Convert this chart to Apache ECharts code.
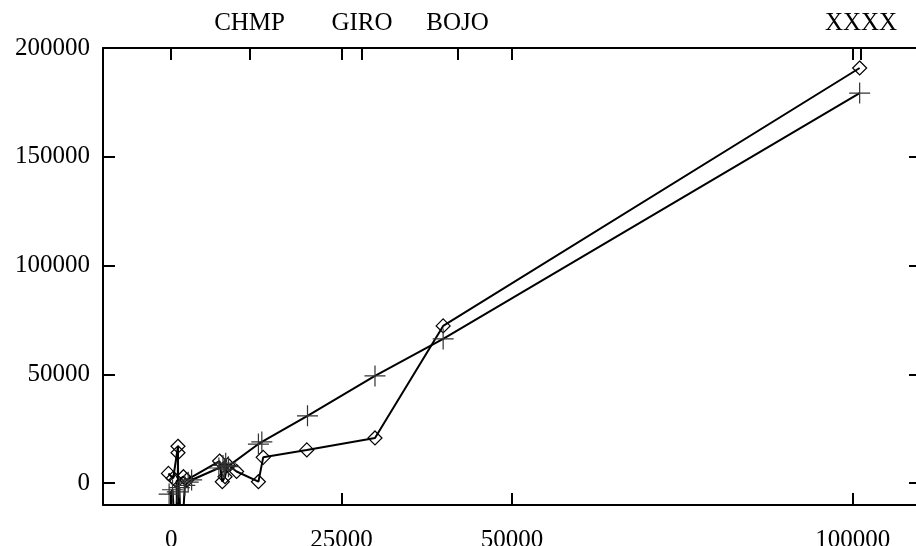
<!DOCTYPE html>
<html>
<head>
<meta charset="utf-8">
<script src="https://cdn.jsdelivr.net/npm/echarts@6/dist/echarts.min.js"></script>
<style>
html, body { margin: 0; padding: 0; background: #fff; }
#chart { width: 916px; height: 546px; }
</style>
</head>
<body>
<div id="chart"></div>
<script>
// points drawn with "+" marks (some fall below the y range and get clipped)
var crossX = [-300, 200, 600, 900, 1200, 1500, 2000, 2500, 3000, 7000, 7600, 8000, 8400, 7800, 12800, 13300, 20000, 29900, 39900, 101000];
var crossY = [-5000, -3000, -25000, -4000, -2000, -30000, -1000, 500, 1500, 7000, 8200, 9200, 7600, 6500, 18000, 19000, 31000, 49300, 66300, 179300];

// points drawn with diamonds
var diamondX = [-400, 300, 1000, 1050, 1000, 900, 800, 1800, 2300, 7100, 7500, 7900, 8300, 9600, 12800, 13500, 19900, 29900, 39900, 101000];
var diamondY = [4500, 2300, 17000, -30000, 14000, -30000, 1000, 3000, 1500, 10200, 700, 3000, 8500, 5400, 700, 11900, 15300, 20800, 72300, 190800];

var xTicks = [0, 25000, 50000, 100000];
var yTicks = [0, 50000, 100000, 150000, 200000];
var topNames = ['CHMP', 'GIRO', 'BOJO', 'XXXX'];
var topPos = [11500, 28000, 42000, 101200];

function pairs(xs, ys) {
    var out = [];
    for (var i = 0; i < xs.length; i++) out.push([xs[i], ys[i]]);
    return out;
}

var font = 'Liberation Serif';
var black = '#000';
var plain = function (v) { return String(v); };

var chart = echarts.init(document.getElementById('chart'));

var option = {
    animation: false,
    backgroundColor: '#fff',
    grid: { left: 103, top: 48, width: 818, height: 457, outerBoundsMode: 'none' },
    xAxis: [{
        type: 'value',
        position: 'bottom',
        min: -10000,
        max: 110000,
        splitLine: { show: false },
        axisLine: { onZero: false, lineStyle: { color: black, width: 2 } },
        axisTick: { inside: true, length: 12, customValues: xTicks, lineStyle: { color: black, width: 2 } },
        axisLabel: { customValues: xTicks, formatter: plain, margin: 23, color: black, fontFamily: font, fontSize: 25, lineHeight: 25 }
    }, {
        type: 'value',
        position: 'top',
        min: -10000,
        max: 110000,
        splitLine: { show: false },
        axisLine: { onZero: false, lineStyle: { color: black, width: 2 } },
        axisTick: { inside: true, length: 12, customValues: xTicks.concat(topPos), lineStyle: { color: black, width: 2 } },
        axisLabel: {
            customValues: topPos,
            margin: 12,
            color: black, fontFamily: font, fontSize: 25, lineHeight: 25,
            formatter: function (v) { return topNames[topPos.indexOf(v)]; }
        }
    }],
    yAxis: [{
        type: 'value',
        position: 'left',
        min: -10000,
        max: 200000,
        splitLine: { show: false },
        axisLine: { show: true, onZero: false, lineStyle: { color: black, width: 2 } },
        axisTick: { show: true, inside: true, length: 12, customValues: yTicks, lineStyle: { color: black, width: 2 } },
        axisLabel: { customValues: yTicks, formatter: plain, margin: 13, color: black, fontFamily: font, fontSize: 25, lineHeight: 25 }
    }, {
        type: 'value',
        position: 'right',
        min: -10000,
        max: 200000,
        splitLine: { show: false },
        axisLine: { show: true, onZero: false, lineStyle: { color: black, width: 2 } },
        axisTick: { show: true, inside: true, length: 12, customValues: yTicks, lineStyle: { color: black, width: 2 } },
        axisLabel: { show: false }
    }],
    series: [{
        type: 'line',
        data: pairs(diamondX, diamondY),
        symbol: 'diamond',
        symbolSize: 14,
        showAllSymbol: true,
        lineStyle: { color: black, width: 2 },
        itemStyle: { color: 'transparent', borderColor: black, borderWidth: 1.2 }
    }, {
        type: 'line',
        data: pairs(crossX, crossY),
        symbol: 'path://M10 0 L10 20 M0 10 L20 10',
        symbolSize: 21,
        showAllSymbol: true,
        lineStyle: { color: black, width: 2 },
        itemStyle: { color: 'transparent', borderColor: '#333', borderWidth: 1.2 }
    }]
};

chart.setOption(option);
</script>
</body>
</html>
